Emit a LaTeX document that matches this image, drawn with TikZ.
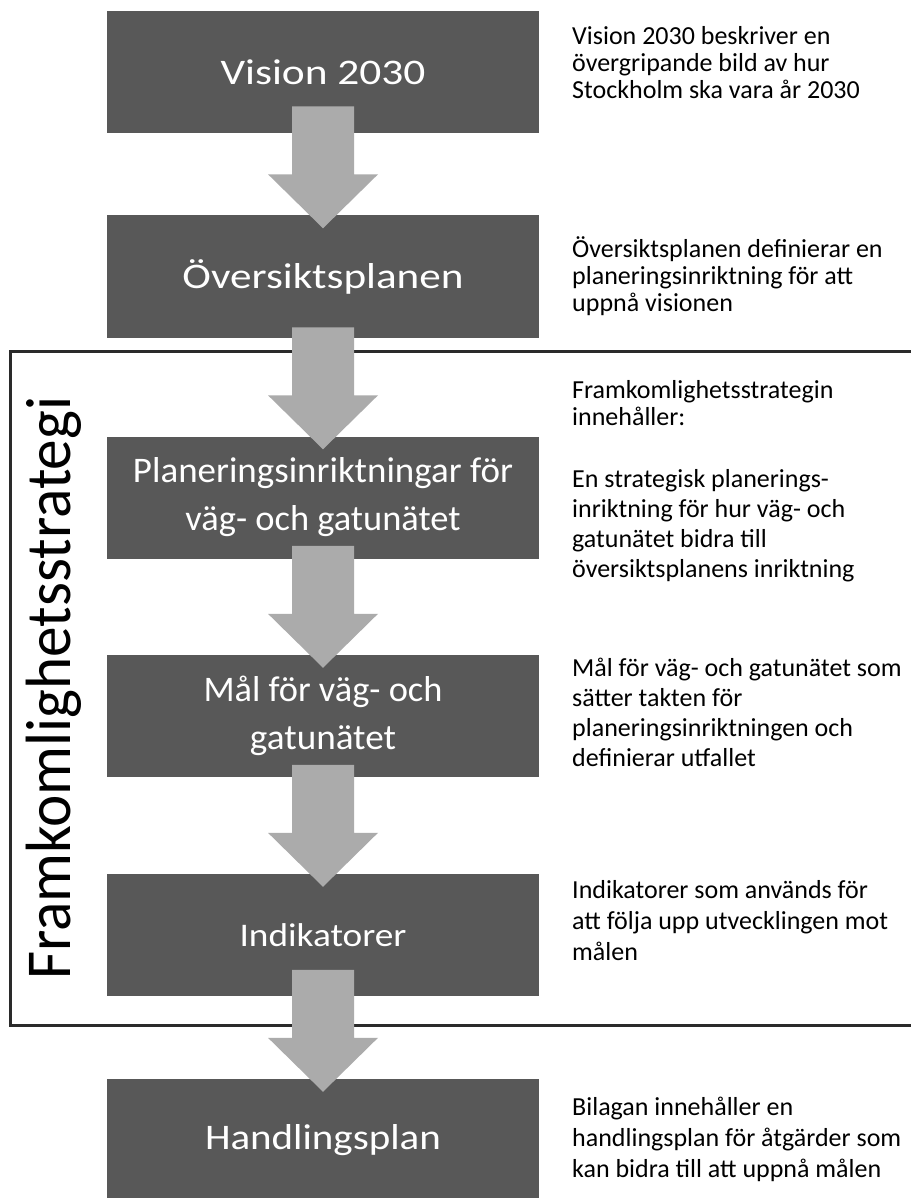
\documentclass[tikz,border=0pt]{standalone}
\usepackage{fontspec}
\setmainfont{Carlito}
\usepackage{graphicx}
\usetikzlibrary{calc}
\definecolor{boxgray}{HTML}{585858}
\definecolor{arrgray}{HTML}{ABABAB}
\definecolor{framec}{HTML}{2A2A2A}
\newcommand{\fitw}[2]{\resizebox{#1pt}{\height}{#2}}
\newcommand{\stagearrow}[2]{%
  \fill[blockarrow] ($(#2.north)+(-31,-109)$) -- ($(#2.north)+(31,-109)$)
    -- ($(#2.north)+(31,-41)$) -- ($(#2.north)+(55,-41)$)
    -- ($(#2.north)+(0,13)$) -- ($(#2.north)+(-55,-41)$)
    -- ($(#2.north)+(-31,-41)$) -- cycle;}
\begin{document}
\begin{tikzpicture}[x=1pt,y=-1pt,
  stagebox/.style={fill=boxgray, draw=none, minimum width=432pt, minimum height=122pt, inner sep=0pt},
  stagetext/.style={text=white, align=center, inner sep=0pt, font=\fontsize{36}{48}\selectfont},
  desc/.style={anchor=base west, inner sep=0pt, text=black, font=\fontsize{26}{28}\selectfont},
  blockarrow/.style={fill=arrgray, draw=none},
  frameline/.style={draw=framec, line width=3pt}]
\useasboundingbox (0,0) rectangle (910,1198);
\fill[white] (0,0) rectangle (910,1198);
% frame
\draw[frameline] (915,351) -- (10,351) -- (10,1025) -- (915,1025);
% boxes
\node[stagebox] (b1) at (323,72) {};
\node[stagebox] (b2) at (323,276.5) {};
\node[stagebox] (b3) at (323,497.5) {};
\node[stagebox] (b4) at (323,716) {};
\node[stagebox] (b5) at (323,935) {};
\node[stagebox] (b6) at (323,1140) {};
% arrows
\stagearrow{b1}{b2}
\stagearrow{b2}{b3}
\stagearrow{b3}{b4}
\stagearrow{b4}{b5}
\stagearrow{b5}{b6}
% box texts
\node[stagetext] (t1) at (b1) {\fitw{205}{Vision 2030}};
\node[stagetext] (t2) at (b2) {\fitw{281}{Översiktsplanen}};
\node[stagetext] (t3) at (b3) {\fitw{380}{Planeringsinriktningar för}\\\fitw{275}{väg- och gatunätet}};
\node[stagetext] (t4) at (b4) {\fitw{239}{Mål för väg- och}\\\fitw{146}{gatunätet}};
\node[stagetext, font=\fontsize{33}{40}\selectfont] (t5) at (b5) {\fitw{167}{Indikatorer}};
\node[stagetext] (t6) at (b6) {\fitw{236}{Handlingsplan}};
% vertical title
\node[rotate=90, anchor=base west, inner sep=0pt, font=\fontsize{64}{64}\selectfont] (vt) at (70,980) {\fitw{583}{Framkomlighetsstrategi}};
% descriptions
\foreach \t [count=\i from 0] in {Vision 2030 beskriver en, övergripande bild av hur, Stockholm ska vara år 2030}
  \node[desc] (d1-\i) at (572,{45+27*\i}) {\t};
\foreach \t [count=\i from 0] in {Översiktsplanen definierar en, planeringsinriktning för att, uppnå visionen}
  \node[desc] (d2-\i) at (572,{257+27*\i}) {\t};
\foreach \t [count=\i from 0] in {Framkomlighetsstrategin, innehåller:}
  \node[desc] (d3-\i) at (572,{398+27*\i}) {\t};
\foreach \t [count=\i from 0] in {En strategisk planerings-, inriktning för hur väg- och, gatunätet bidra till, översiktsplanens inriktning}
  \node[desc] (d4-\i) at (572,{487+30*\i}) {\t};
\foreach \t [count=\i from 0] in {Mål för väg- och gatunätet som, sätter takten för, planeringsinriktningen och, definierar utfallet}
  \node[desc] (d5-\i) at (572,{676+30*\i}) {\t};
\foreach \t [count=\i from 0] in {Indikatorer som används för, att följa upp utvecklingen mot, målen}
  \node[desc] (d6-\i) at (572,{898+31*\i}) {\t};
\foreach \t [count=\i from 0] in {Bilagan innehåller en, handlingsplan för åtgärder som, kan bidra till att uppnå målen}
  \node[desc] (d7-\i) at (572,{1115+31*\i}) {\t};
\end{tikzpicture}
\end{document}
